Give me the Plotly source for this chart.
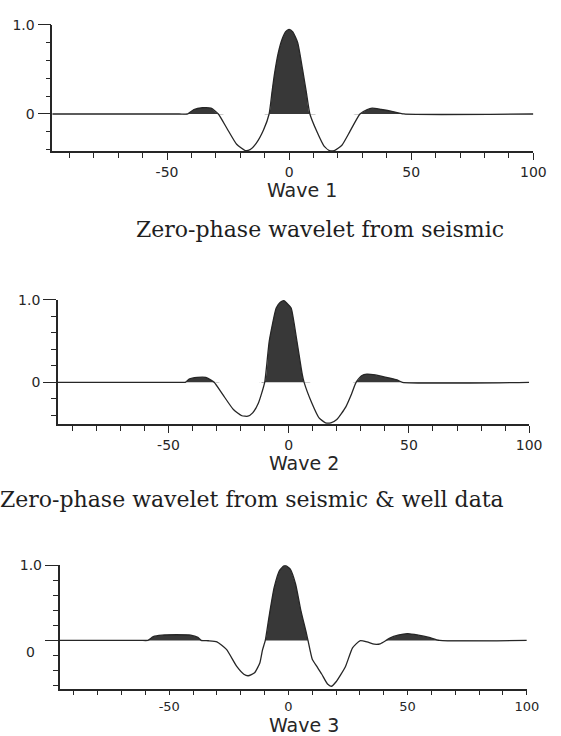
import plotly.graph_objects as go

# ---------------- data ----------------
wave1_t = [-97, -45, -41.5, -39, -35.5, -32, -29, -25.5, -21.5, -18, -16, -13.5, -10.5, -8.2, -7, -6, -4.5, -3,
           -1.5, 0, 1.5, 3.5, 5.5, 7, 8.5, 11.4, 14.3, 16.5, 18.5, 21.6, 25, 29, 32, 34, 37.7, 42, 47, 100]
wave1_a = [0, 0, 0, 0.05, 0.07, 0.065, 0, -0.16, -0.34, -0.41, -0.4, -0.33, -0.18, 0, 0.25, 0.45, 0.68, 0.83,
           0.92, 0.95, 0.92, 0.8, 0.5, 0.25, 0, -0.2, -0.36, -0.41, -0.41, -0.35, -0.19, 0, 0.05, 0.065, 0.05, 0.03, 0, 0]

wave2_t = [-96, -46, -43, -41.4, -38, -34.5, -32.5, -31, -27.4, -23, -19.5, -17, -15, -12.6, -10, -8.1, -5.2,
           -3.5, -2, -0.5, 1, 3.4, 5.6, 6.4, 9.6, 12.6, 15.3, 17.5, 20, 23.7, 26, 28, 30.3, 32.5, 36, 40.7, 45, 47.3, 100]
wave2_a = [0, 0, 0, 0.04, 0.06, 0.06, 0.03, 0, -0.15, -0.33, -0.405, -0.41, -0.37, -0.25, 0, 0.5, 0.9,
           0.97, 0.99, 0.95, 0.9, 0.5, 0.1, 0, -0.25, -0.43, -0.49, -0.49, -0.45, -0.3, -0.15, 0, 0.08, 0.1, 0.09, 0.06, 0.03, 0, 0]

wave3_t = [-96, -62, -59, -56.7, -53, -47, -41, -38, -36.6, -33.6, -30, -26, -21.6, -18.7, -16.9, -14.2,
           -12, -10.9, -9.7, -8.2, -6, -3.7, -1.5, 0.7, 3, 5.2, 7.5, 8.2, 10, 12, 14, 16.4, 18, 20, 23.9,
           26.9, 30, 33, 36, 38.5, 41, 42.5, 46, 50, 54.5, 59, 63.4, 100]
wave3_a = [0, 0, 0, 0.05, 0.07, 0.075, 0.07, 0.04, 0, -0.005, -0.02, -0.12, -0.35, -0.45, -0.47, -0.43,
           -0.3, -0.13, 0, 0.3, 0.7, 0.93, 1.0, 0.95, 0.75, 0.4, 0.1, 0, -0.25, -0.35, -0.45, -0.58, -0.61,
           -0.55, -0.35, -0.1, -0.005, -0.02, -0.05, -0.045, 0, 0.03, 0.07, 0.09, 0.07, 0.04, 0, 0]

x_tick_vals = [-50, 0, 50, 100]
x_tick_text = ["-50", "0", "50", "100"]
x_minor_vals = list(range(-90, 101, 10))
y_tick_vals = [0, 1.0]
y_tick_text = ["0", "1.0"]
y_minor_vals = [-0.6, -0.4, -0.2, 0.2, 0.4, 0.6, 0.8]
wave_titles = ["Wave 1", "Wave 2", "Wave 3"]
captions = ["Zero-phase wavelet from seismic", "Zero-phase wavelet from seismic & well data"]

# ---------------- layout geometry ----------------
W, H = 561, 736
panels = [
    # (x_left_px, x_right_px, y_top_px, y_bottom_px, xrange, yrange, x_ticklen, x_tickfont)
    (53.5, 546.0, 17.0, 145.0, [-97, 100], [-0.42, 1.0], 7, 14),
    (59.3, 541.7, 295.0, 421.0, [-96, 100], [-0.51, 1.0], 7, 14),
    (61.0, 539.3, 563.3, 688.0, [-96, 100], [-0.64, 1.0], 5, 13),
]
waves = [(wave1_t, wave1_a), (wave2_t, wave2_a), (wave3_t, wave3_a)]

INK = "#262626"
FILL = "#383838"
SMOOTH = 0.5

fig = go.Figure()

for i, ((xl, xr, yt, yb, xrng, yrng, xtl, xtf), (t, a)) in enumerate(zip(panels, waves)):
    sfx = "" if i == 0 else str(i + 1)
    xa, ya = "x" + sfx, "y" + sfx
    pos = [max(v, 0) for v in a]
    fig.add_trace(go.Scatter(x=t, y=pos, xaxis=xa, yaxis=ya, mode="lines",
                             line=dict(width=0, color=FILL, shape="spline", smoothing=SMOOTH),
                             fill="tozeroy", fillcolor=FILL, hoverinfo="skip", showlegend=False))
    fig.add_trace(go.Scatter(x=t, y=a, xaxis=xa, yaxis=ya, mode="lines",
                             line=dict(width=1.3, color=INK, shape="spline", smoothing=SMOOTH),
                             showlegend=False))

    ytext = list(y_tick_text) if i < 2 else ["", "1.0"]
    xkey = "xaxis" + sfx
    ykey = "yaxis" + sfx
    fig.update_layout(**{
        xkey: dict(domain=[xl / W, xr / W], range=xrng, anchor=ya,
                   showline=True, linecolor=INK, linewidth=1.5, showgrid=False, zeroline=False,
                   tickmode="array", tickvals=x_tick_vals, ticktext=x_tick_text,
                   ticks="outside", ticklen=xtl, tickwidth=1.3, tickcolor=INK,
                   tickfont=dict(family="DejaVu Sans", size=xtf, color=INK),
                   minor=dict(tickmode="array", tickvals=x_minor_vals, ticks="outside",
                              ticklen=5, tickwidth=1.2, tickcolor=INK),
                   fixedrange=True),
        ykey: dict(domain=[1 - yb / H, 1 - yt / H], range=yrng, anchor=xa,
                   showline=True, linecolor=INK, linewidth=1.5, showgrid=False, zeroline=False,
                   tickmode="array", tickvals=y_tick_vals, ticktext=ytext,
                   ticks="outside", ticklen=13, tickwidth=1.3, tickcolor=INK,
                   tickfont=dict(family="DejaVu Sans", size=14, color=INK),
                   minor=dict(tickmode="array", tickvals=[v for v in y_minor_vals if v > yrng[0]],
                              ticks="outside", ticklen=5, tickwidth=1.2, tickcolor=INK),
                   fixedrange=True),
    })

annotations = []
title_pos = [(309, 184), (311, 460), (311, 725)]
for txt, (px, py) in zip(wave_titles, title_pos):
    annotations.append(dict(text=txt, x=px / W, y=1 - py / H, xref="paper", yref="paper",
                            showarrow=False, xanchor="center", yanchor="middle",
                            font=dict(family="DejaVu Sans", size=19, color=INK)))
cap_pos = [(328, 224), (258, 497)]
for txt, (px, py) in zip(captions, cap_pos):
    annotations.append(dict(text=txt, x=px / W, y=1 - py / H, xref="paper", yref="paper",
                            showarrow=False, xanchor="center", yanchor="middle",
                            font=dict(family="DejaVu Serif", size=22, color="#1e1e1e")))
# misplaced "0" label of the third panel
annotations.append(dict(text="0", x=38 / W, y=-0.16, xref="paper", yref="y3",
                        showarrow=False, xanchor="right", yanchor="middle",
                        font=dict(family="DejaVu Sans", size=14, color=INK)))

fig.update_layout(width=W, height=H, margin=dict(l=0, r=0, t=0, b=0),
                  paper_bgcolor="white", plot_bgcolor="rgba(0,0,0,0)",
                  annotations=annotations, showlegend=False)

fig.write_html("out.html", config={"displayModeBar": False},
               post_script="document.body.style.margin='0px';document.body.style.overflow='hidden';")
